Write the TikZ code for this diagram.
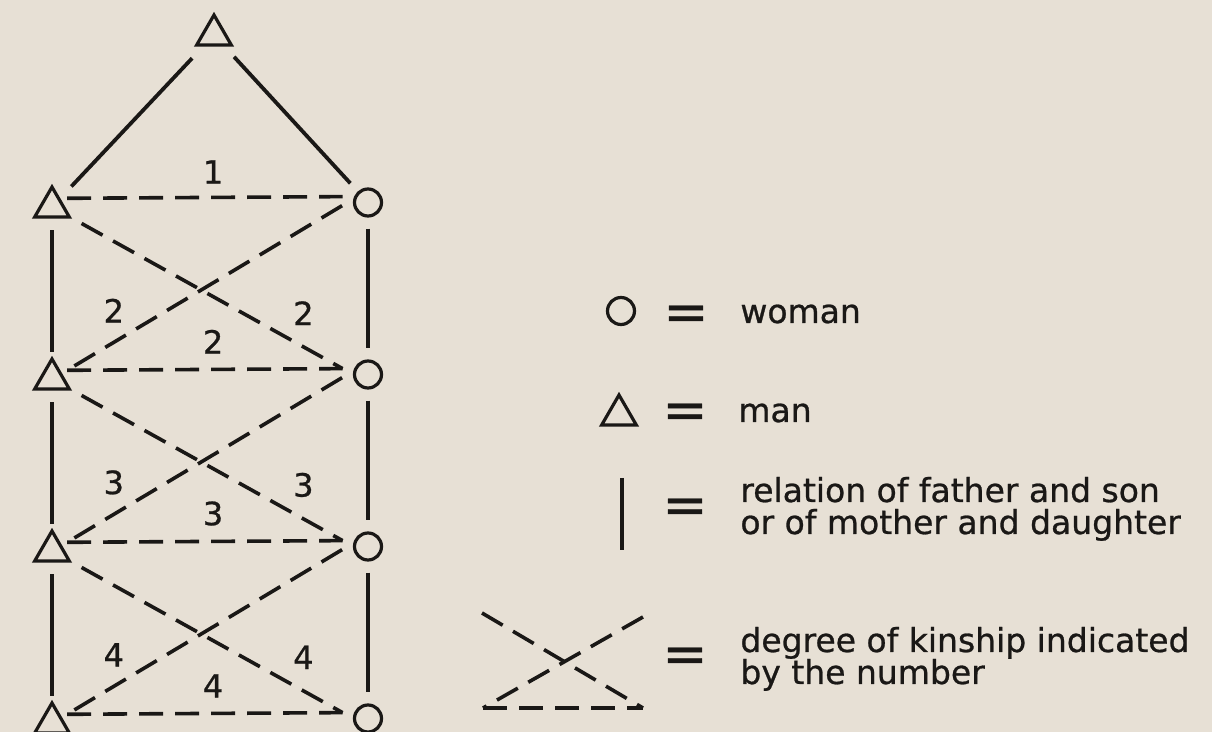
\documentclass[tikz,border=0pt]{standalone}
\usepackage{fontspec}
\setmainfont{DejaVu Sans}[FakeBold=0.8]
\usetikzlibrary{positioning,shapes.geometric}
\definecolor{paper}{HTML}{E7E0D5}
\definecolor{ink}{HTML}{1A1816}
\newcommand\legendfont{\fontsize{16.5}{16}\selectfont}
\newcommand\numfont{\fontsize{16}{16}\selectfont}
\newcommand\eqfont{\fontsize{27}{27}\selectfont}

\begin{document}
\begin{tikzpicture}[
  x=0.5pt, y=-0.5pt, on grid,
  man/.style={draw=ink, regular polygon, regular polygon sides=3, minimum size=20pt, inner sep=0pt, outer sep=3.7pt, line width=1.6pt},
  woman/.style={draw=ink, circle, minimum size=13.5pt, inner sep=0pt, outer sep=6.3pt, line width=1.6pt},
  rel/.style={ink, line width=1.9pt},
  kin/.style={ink, line width=1.8pt, dash pattern=on 12pt off 6pt},
  num/.style={font=\numfont, text=ink, inner sep=0pt},
  eq/.style={font=\eqfont, text=ink, inner sep=0pt},
  legend/.style={font=\legendfont, text=ink, inner sep=0pt, anchor=base west, align=left}
]
  \fill[paper] (0,0) rectangle (1212,732);
  \useasboundingbox (0,0) rectangle (1212,732);

  % the kinship ladder
  \node[man] (m0) at (214,35) {};
  \node[man] (m1) at (52,207) {};
  \node[woman, right=158pt of m1, yshift=2.25pt] (w1) {};
  \node[man, below=86pt of m1] (m2) {};
  \node[woman, right=158pt of m2, yshift=2.25pt] (w2) {};
  \node[man, below=86pt of m2] (m3) {};
  \node[woman, right=158pt of m3, yshift=2.25pt] (w3) {};
  \node[man, below=86pt of m3] (m4) {};
  \node[woman, right=158pt of m4, yshift=2.25pt] (w4) {};

  \draw[rel, shorten <=4pt, shorten >=5pt] (m0) -- (m1);
  \draw[rel, shorten <=3pt] (m0) -- (w1);
  \draw[rel, shorten <=3pt, shorten >=-4pt] (m1.south) -- (m2.north);
  \draw[rel, shorten <=3pt, shorten >=-4pt] (m2.south) -- (m3.north);
  \draw[rel, shorten <=3pt, shorten >=-4pt] (m3.south) -- (m4.north);
  \draw[rel] (w1.south) -- (w2.north);
  \draw[rel] (w2.south) -- (w3.north);
  \draw[rel] (w3.south) -- (w4.north);

  \draw[kin] (m1.30) -- node[num, pos=.53, above=6pt] {1} (w1.167);

  \draw[kin] (m1) -- node[num, pos=.85, above=10pt] {2} (w2.167);
  \draw[kin] (w1.187) -- node[num, pos=.83, above=9pt] {2} (m2.30);
  \draw[kin] (m2.30) -- node[num, pos=.53, above=7pt] {2} (w2.167);

  \draw[kin] (m2) -- node[num, pos=.85, above=10pt] {3} (w3.167);
  \draw[kin] (w2.187) -- node[num, pos=.83, above=9pt] {3} (m3.30);
  \draw[kin] (m3.30) -- node[num, pos=.53, above=7pt] {3} (w3.167);

  \draw[kin] (m3) -- node[num, pos=.85, above=10pt] {4} (w4.167);
  \draw[kin] (w3.187) -- node[num, pos=.83, above=9pt] {4} (m4.30);
  \draw[kin] (m4.30) -- node[num, pos=.53, above=7pt] {4} (w4.167);

  % legend
  \node[woman] (kw) at (621,311) {};
  \node[man] (km) at (619,415) {};
  \coordinate (bartop) at (622,478);
  \coordinate (barbot) at (622,550);
  \draw[rel] (bartop) -- (barbot);
  \coordinate (xtl) at (482,613);
  \coordinate (xtr) at (643,617);
  \coordinate (xbl) at (483,708);
  \coordinate (xbr) at (643,708);
  \draw[kin] (xtl) -- (xbr);
  \draw[kin] (xtr) -- (xbl);
  \draw[kin] (xbl) -- (xbr);

  \node[eq] (e1) at (686,318) {=};
  \node[eq] (e2) at (685,416) {=};
  \node[eq] (e3) at (685,511) {=};
  \node[eq] (e4) at (685,660) {=};

  \node[legend] (t1) at (740,323) {woman};
  \node[legend] (t2) at (738,422) {man};
  \node[legend] (t3) at (740,534) {relation of father and son\\or of mother and daughter};
  \node[legend] (t4) at (740,684) {degree of kinship indicated\\by the number};
\end{tikzpicture}
\end{document}
